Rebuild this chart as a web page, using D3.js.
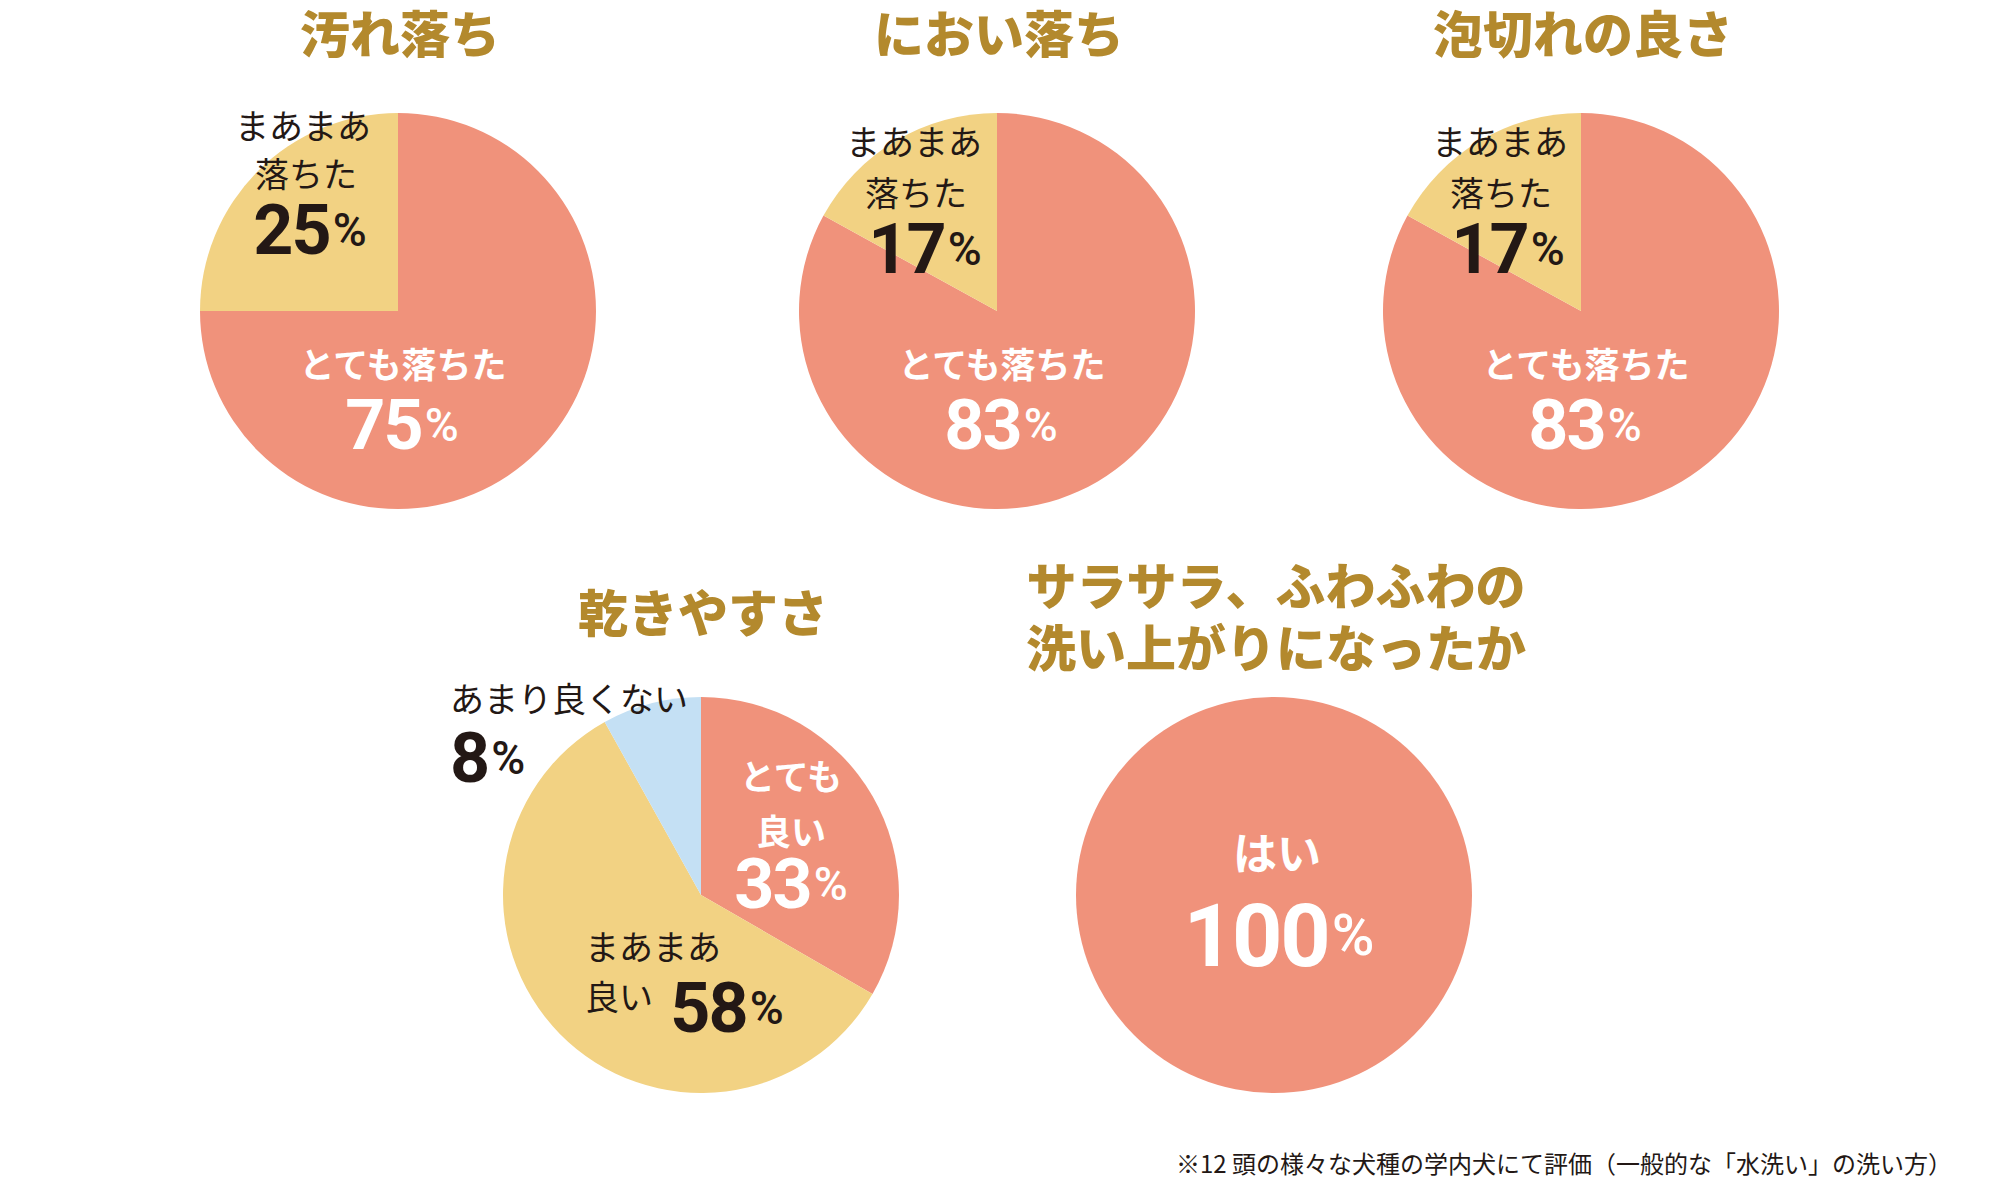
<!DOCTYPE html>
<html><head><meta charset="utf-8">
<script src="https://cdn.jsdelivr.net/npm/d3@7"></script>
<style>
html,body{margin:0;padding:0;background:#fff;}
svg{display:block;}
</style></head>
<body>
<svg id="chart" width="2000" height="1179"></svg>
<script>
// ---- data ----
const titles = ["汚れ落ち", "におい落ち", "泡切れの良さ", "乾きやすさ", "サラサラ、ふわふわの\n洗い上がりになったか"];
const soilLabels = ["とても落ちた", "まあまあ\n落ちた"];
const soilValues = [75, 25];
const odorLabels = ["とても落ちた", "まあまあ\n落ちた"];
const odorValues = [83, 17];
const rinseLabels = ["とても落ちた", "まあまあ\n落ちた"];
const rinseValues = [83, 17];
const dryLabels = ["とても\n良い", "まあまあ\n良い", "あまり良くない"];
const dryValues = [33, 58, 8];
const fluffLabels = ["はい"];
const fluffValues = [100];
const levelKeys = ["top", "mid", "low"];
const footnote = "※12 頭の様々な犬種の学内犬にて評価（一般的な「水洗い」の洗い方）";

// ---- style / layout ----
const colorScale = d3.scaleOrdinal().domain(levelKeys).range(["#F0927B", "#F2D283", "#C4E0F4"]);
const titleColor = "#B3892D";
const dark = "#231815";
const R = 198;
const jp = "'Noto Sans CJK JP','Noto Sans',sans-serif";
const numFont = "Roboto,'Liberation Sans',sans-serif";

const charts = [
  {labels: soilLabels, values: soilValues, cx: 398, cy: 311, titleY: [31], size: 70, lab: 35,
   pos: [{lines: [[5, 51]], num: [4, 114], white: true},
         {lines: [[-95, -187], [-92, -139]], num: [-88, -81]}]},
  {labels: odorLabels, values: odorValues, cx: 997, cy: 311, titleY: [31], size: 70, lab: 35,
   pos: [{lines: [[5, 51]], num: [4, 114], white: true},
         {lines: [[-83, -171], [-81, -120]], num: [-72, -62]}]},
  {labels: rinseLabels, values: rinseValues, cx: 1581, cy: 311, titleY: [31], size: 70, lab: 35,
   pos: [{lines: [[5, 51]], num: [4, 114], white: true},
         {lines: [[-81, -171], [-80, -120]], num: [-73, -62]}]},
  {labels: dryLabels, values: dryValues, cx: 701, cy: 895, titleY: [610], size: 70, lab: 35,
   pos: [{lines: [[90, -121], [90, -66]], num: [90, -11], white: true},
         {lines: [[-116, 50, "start"], [-116, 100, "start"]], num: [26, 113]},
         {lines: [[-251, -198, "start"]], num: [-251, -137, "start"]}]},
  {labels: fluffLabels, values: fluffValues, cx: 1274, cy: 895, titleY: [583, 645], size: 88, lab: 44,
   pos: [{lines: [[3, -44]], num: [5, 40], white: true}]}
];

const svg = d3.select("#chart");
const pie = d3.pie().sort(null).value(d => d.value);
const arc = d3.arc().innerRadius(0).outerRadius(R);

charts.forEach((c, ci) => {
  const g = svg.append("g").attr("transform", `translate(${c.cx},${c.cy})`);
  const data = c.values.map((v, i) => ({value: v, label: c.labels[i], key: levelKeys[i]}));
  const arcs = pie(data);

  g.selectAll("path.slice").data(arcs).join("path")
    .attr("class", "slice")
    .attr("d", arc)
    .attr("fill", d => colorScale(d.data.key));

  // title
  const tLines = titles[ci].split("\n");
  tLines.forEach((t, li) => {
    svg.append("text")
      .attr("x", c.cx + 2).attr("y", c.titleY[li])
      .attr("text-anchor", "middle").attr("dominant-baseline", "central")
      .attr("font-family", jp).attr("font-weight", 900).attr("font-size", 50)
      .attr("fill", titleColor).text(t);
  });

  // labels
  arcs.forEach((a, i) => {
    const p = c.pos[i];
    const white = !!p.white;
    const lines = a.data.label.split("\n");
    lines.forEach((t, li) => {
      const L = p.lines[li];
      g.append("text")
        .attr("x", L[0]).attr("y", L[1])
        .attr("text-anchor", L[2] || "middle").attr("dominant-baseline", "central")
        .attr("font-family", jp).attr("font-weight", white ? 700 : 400)
        .attr("font-size", white ? c.lab : 34)
        .attr("fill", white ? "#fff" : dark).text(t);
    });
    const nt = g.append("text")
      .attr("x", p.num[0]).attr("y", p.num[1])
      .attr("text-anchor", p.num[2] || "middle").attr("dominant-baseline", "central")
      .attr("font-family", numFont).attr("fill", white ? "#fff" : dark);
    nt.append("tspan").attr("font-weight", 700).attr("font-size", c.size)
      .attr("letter-spacing", -2).text(a.data.value);
    nt.append("tspan").attr("font-weight", 500).attr("font-size", c.size * 0.66)
      .attr("dx", 3).text("%");
  });
});

svg.append("text")
  .attr("x", 1952).attr("y", 1162)
  .attr("text-anchor", "end").attr("dominant-baseline", "central")
  .attr("font-family", jp).attr("font-size", 24).attr("fill", dark)
  .text(footnote);
</script>
</body></html>
